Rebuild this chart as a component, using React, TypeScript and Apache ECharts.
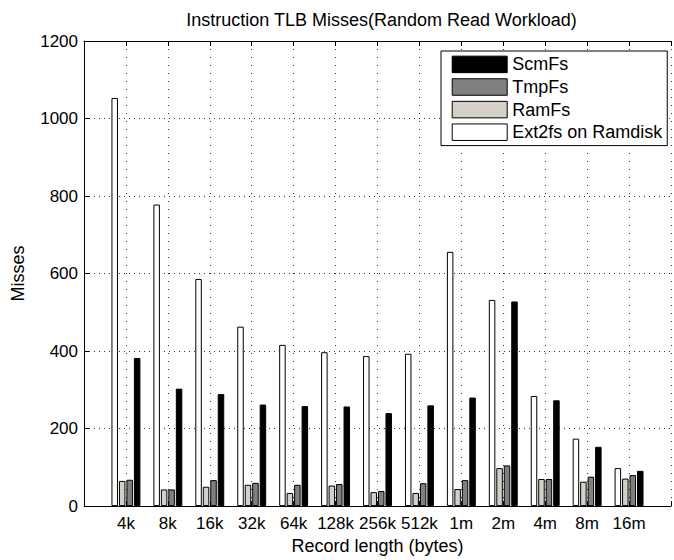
import React, { useEffect, useRef } from 'react';
import * as echarts from 'echarts';

const categories = ['4k', '8k', '16k', '32k', '64k', '128k', '256k', '512k', '1m', '2m', '4m', '8m', '16m'];
const ext2fsValues = [1053, 778, 586, 463, 416, 397, 387, 393, 656, 532, 284, 174, 98];
const ramfsValues = [65, 43, 50, 55, 34, 53, 36, 34, 44, 98, 70, 63, 71];
const tmpfsValues = [68, 43, 67, 60, 55, 57, 39, 59, 67, 105, 70, 76, 80];
const scmfsValues = [382, 303, 289, 262, 258, 257, 240, 260, 280, 528, 273, 153, 91];
const legendOrder = ['ScmFs', 'TmpFs', 'RamFs', 'Ext2fs on Ramdisk'];

const FONT = '"Liberation Sans", Arial, Helvetica, sans-serif';

export default function App() {
  const ref = useRef<HTMLDivElement>(null);
  useEffect(() => {
    const chart = echarts.init(ref.current!, null, { renderer: 'svg' });
    const toData = (arr: number[]) => arr.map((v, i) => [i + 1, v]);
    const mk = (name: string, data: number[], color: string) => ({
      type: 'bar',
      name,
      data: toData(data),
      barWidth: 6.5,
      barGap: '15%',
      xAxisIndex: 0,
      yAxisIndex: 0,
      itemStyle: { color, borderColor: '#000', borderWidth: 1 },
    });
    chart.setOption({
      animation: false,
      backgroundColor: '#ffffff',
      graphic: [
        {
          type: 'text',
          x: 381.5,
          y: 20,
          style: {
            text: 'Instruction TLB Misses(Random Read Workload)',
            font: `18px ${FONT}`,
            textAlign: 'center',
            textVerticalAlign: 'middle',
            fill: '#000',
          },
        },
      ],
      grid: { left: 84, top: 41, bottom: 49, right: -5.6, containLabel: false },
      legend: {
        data: legendOrder,
        orient: 'vertical',
        left: 441,
        top: 51,
        itemWidth: 55,
        itemHeight: 16.5,
        itemGap: 4.6,
        padding: [4.4, 5, 4.4, 10.7],
        borderColor: '#000',
        borderWidth: 1,
        backgroundColor: '#fff',
        icon: 'rect',
        selectedMode: false,
        itemStyle: { borderColor: '#000', borderWidth: 1 },
        textStyle: { fontSize: 18, color: '#000', fontFamily: FONT },
      },
      xAxis: [
        {
          type: 'value',
          position: 'bottom',
          min: 0,
          max: 14,
          interval: 1,
          axisLine: { show: true, lineStyle: { color: '#000', width: 1 } },
          axisTick: { show: true, inside: true, length: 5, lineStyle: { color: '#000' } },
          axisLabel: {
            formatter: (v: number) => categories[Math.round(v) - 1] ?? '',
            fontSize: 17,
            color: '#000',
            fontFamily: FONT,
            margin: 9,
          },
          splitLine: { show: true, lineStyle: { color: '#333', width: 1, type: [1, 7] } },
          name: 'Record length (bytes)',
          nameLocation: 'middle',
          nameGap: 29,
          nameTextStyle: { fontSize: 18, color: '#000', fontFamily: FONT },
        },
        {
          type: 'value',
          position: 'top',
          min: 0,
          max: 14,
          interval: 1,
          axisLine: { show: true, lineStyle: { color: '#000', width: 1 } },
          axisTick: { show: true, inside: true, length: 5, lineStyle: { color: '#000' } },
          axisLabel: { show: false },
          splitLine: { show: false },
        },
      ],
      yAxis: {
        type: 'value',
        min: 0,
        max: 1200,
        interval: 200,
        axisLine: { show: true, lineStyle: { color: '#000', width: 1 } },
        axisTick: { show: true, inside: true, length: 5, lineStyle: { color: '#000' } },
        axisLabel: {
          formatter: (v: number) => String(v),
          fontSize: 17,
          color: '#000',
          fontFamily: FONT,
          margin: 6,
        },
        splitLine: { show: true, lineStyle: { color: '#333', width: 1, type: [1, 4] } },
        name: 'Misses',
        nameLocation: 'middle',
        nameGap: 57,
        nameRotate: 90,
        nameTextStyle: { fontSize: 18, color: '#000', fontFamily: FONT },
      },
      series: [
        mk('Ext2fs on Ramdisk', ext2fsValues, '#ffffff'),
        mk('RamFs', ramfsValues, '#d4d0c8'),
        mk('TmpFs', tmpfsValues, '#808080'),
        mk('ScmFs', scmfsValues, '#000000'),
      ],
    });
    return () => chart.dispose();
  }, []);
  return <div ref={ref} style={{ position: 'absolute', left: 0, top: 0, width: 674, height: 560 }} />;
}
